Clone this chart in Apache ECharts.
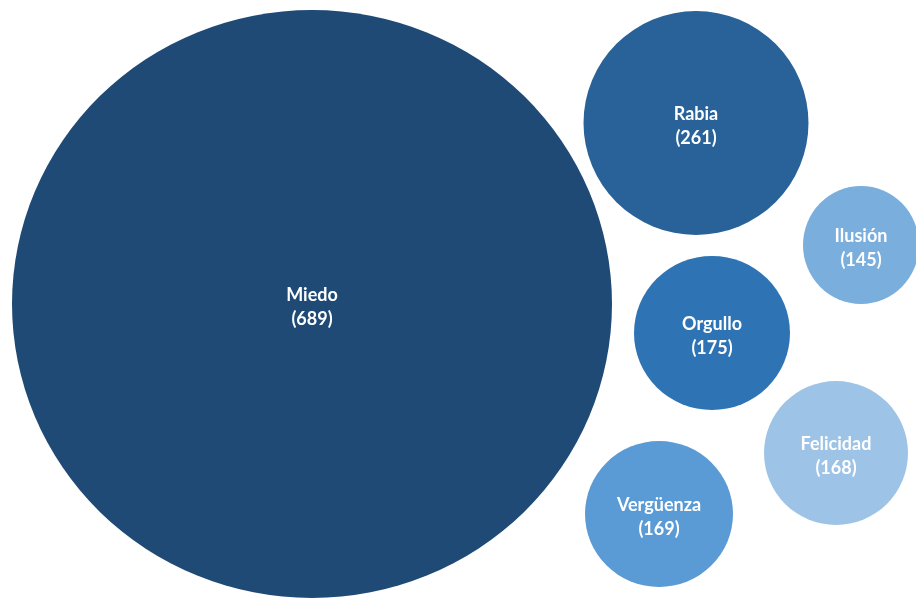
<!DOCTYPE html>
<html><head><meta charset="utf-8">
<script src="https://cdn.jsdelivr.net/npm/echarts@6/dist/echarts.min.js"></script>
<style>html,body{margin:0;padding:0;background:#fff}#c{width:916px;height:599px}</style>
</head><body><div id="c"></div>
<script>
var categories = ['Miedo', 'Rabia', 'Ilusión', 'Orgullo', 'Felicidad', 'Vergüenza'];
var values = [689, 261, 145, 175, 168, 169];
var xPos = [312, 696, 861, 712, 836, 659];
var yPos = [304, 123, 245, 333, 453, 514];
var colors = ['#1F4A75', '#286299', '#7AAEDD', '#2E74B5', '#9DC3E6', '#5B9BD5'];
var diamW = [600, 225, 116, 156, 144, 148];
var diamH = [588, 224, 118, 154, 144, 146];

var data = categories.map(function (c, i) {
  return {
    name: c,
    value: [xPos[i], yPos[i], values[i]],
    symbolSize: [diamW[i], diamH[i]],
    itemStyle: { color: colors[i], opacity: 1 }
  };
});

var chart = echarts.init(document.getElementById('c'));
chart.setOption({
  animation: false,
  grid: { left: 0, right: 0, top: 0, bottom: 0 },
  xAxis: { type: 'value', min: 0, max: 916, show: false },
  yAxis: { type: 'value', min: 0, max: 599, inverse: true, show: false },
  series: [{
    type: 'scatter',
    data: data,
    itemStyle: { opacity: 1 },
    label: {
      show: true,
      position: 'inside',
      offset: [0, 3],
      formatter: function (p) { return p.name + '\n(' + p.value[2] + ')'; },
      color: '#fff',
      fontFamily: 'Lato',
      fontWeight: 'bold',
      fontSize: 18,
      lineHeight: 24
    }
  }]
});
</script></body></html>
